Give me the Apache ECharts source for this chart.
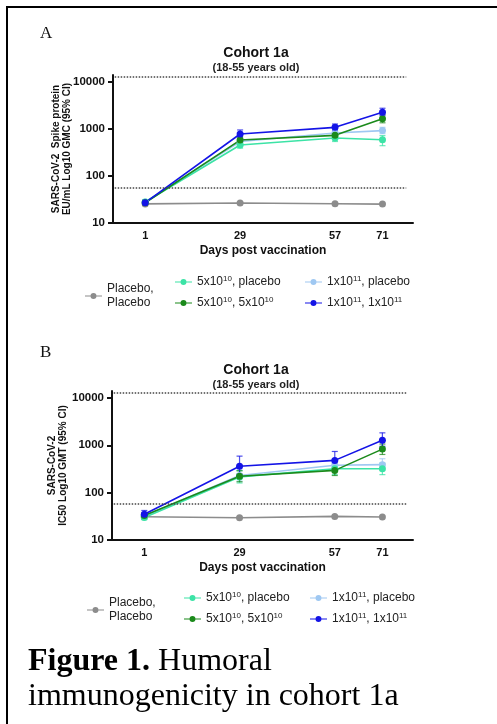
<!DOCTYPE html>
<html lang="en">
<head>
    <meta charset="UTF-8">
    <script src="https://cdn.jsdelivr.net/npm/echarts@6/dist/echarts.min.js"></script>
    <title>Cohort 1a</title>
    <style>
        html, body { margin: 0; padding: 0; background: #fff; }
    </style>
</head>
<body>
    <div id="main" style="width:497px;height:724px"></div>
    <script>
        // days post vaccination
        var days = [1, 29, 57, 71];
        var dayTicks = [1, 29, 57, 71];
        var yTicks = [10, 100, 1000, 10000];

        var names = ['Placebo, Placebo', '5x10^10, placebo', '5x10^10, 5x10^10', '1x10^11, placebo', '1x10^11, 1x10^11'];
        var colors = ['#8c8c8c', '#3ce3a6', '#1b8a1b', '#9fc8f2', '#1414e6'];

        // panel A: spike protein GMC (EU/mL)
        var gmcPlacebo = [25.5, 26.6, 25.6, 25.2];
        var gmcLowPlacebo = [28, 456, 640, 590];
        var gmcLowLow = [27, 580, 730, 1650];
        var gmcHighPlacebo = [28, 540, 820, 920];
        var gmcHighHigh = [27, 780, 1080, 2250];
        var gmcLowPlaceboCI = [[25, 390, 540, 440], [31, 540, 740, 720]];
        var gmcLowLowCI = [[25, 490, 620, 1350], [30, 690, 850, 2000]];
        var gmcHighPlaceboCI = [[25, 450, 700, 790], [31, 650, 960, 1080]];
        var gmcHighHighCI = [[25, 650, 920, 1900], [31, 950, 1270, 2750]];
        var gmcRefLines = [12800, 56];

        // panel B: neutralising IC50 GMT
        var gmtPlacebo = [31, 29.6, 31.5, 30.5];
        var gmtLowPlacebo = [30, 215, 320, 320];
        var gmtLowLow = [33, 222, 295, 830];
        var gmtHighPlacebo = [32, 230, 380, 390];
        var gmtHighHigh = [35, 360, 480, 1280];
        var gmtLowPlaceboCI = [[27, 160, 240, 240], [34, 290, 420, 420]];
        var gmtLowLowCI = [[29, 170, 230, 640], [37, 290, 380, 1060]];
        var gmtHighPlaceboCI = [[28, 175, 290, 300], [36, 300, 500, 520]];
        var gmtHighHighCI = [[30, 250, 330, 950], [42, 590, 740, 1830]];
        var gmtRefLines = [12800, 59];

        var font = '"Liberation Sans", Arial, sans-serif';
        var legendIcon = 'path://M0,3.3L20,3.3L20,4.7L0,4.7Z M10,0.5A3.5,3.5 0 1 1 9.99,0.5Z';

        function pairs(vals) {
            return days.map(function (d, i) { return [d, vals[i]]; });
        }

        function lineSeries(idx, vals, panel) {
            return {
                name: names[idx],
                type: 'line',
                xAxisIndex: panel, yAxisIndex: panel,
                data: pairs(vals),
                symbol: 'circle',
                symbolSize: 7,
                z: 3,
                color: colors[idx],
                lineStyle: { width: 1.6, color: colors[idx] },
                itemStyle: { color: colors[idx] },
                emphasis: { disabled: true }
            };
        }

        function errorSeries(idx, ci, panel) {
            return {
                name: names[idx],
                type: 'custom',
                xAxisIndex: panel, yAxisIndex: panel,
                z: 2,
                silent: true,
                data: days.map(function (d, i) { return [d, ci[0][i], ci[1][i]]; }),
                encode: { x: 0, y: [1, 2] },
                renderItem: function (params, api) {
                    var lo = api.coord([api.value(0), api.value(1)]);
                    var hi = api.coord([api.value(0), api.value(2)]);
                    var st = { stroke: colors[idx], lineWidth: 1.2, opacity: 0.75 };
                    return {
                        type: 'group',
                        children: [
                            { type: 'line', shape: { x1: lo[0], y1: lo[1], x2: hi[0], y2: hi[1] }, style: st },
                            { type: 'line', shape: { x1: lo[0] - 3, y1: lo[1], x2: lo[0] + 3, y2: lo[1] }, style: st },
                            { type: 'line', shape: { x1: hi[0] - 3, y1: hi[1], x2: hi[0] + 3, y2: hi[1] }, style: st }
                        ]
                    };
                }
            };
        }

        function refLines(refs) {
            return {
                silent: true,
                symbol: 'none',
                label: { show: false },
                lineStyle: { type: 'dotted', color: '#444', width: 1.5 },
                data: refs.map(function (v) {
                    return [{ coord: [-8, v] }, { coord: [78, v] }];
                })
            };
        }

        function supName(name) {
            if (name === names[0]) return 'Placebo,\nPlacebo';
            return name.replace(/10\^(\d+)/g, '10{sup|$1}');
        }

        function legendBlock(items, left, top) {
            return {
                orient: 'vertical',
                left: left, top: top,
                data: items,
                icon: legendIcon,
                itemWidth: 17, itemHeight: 7,
                itemGap: 7,
                selectedMode: false,
                formatter: supName,
                textStyle: {
                    fontFamily: font, fontSize: 12, color: '#222', lineHeight: 14,
                    rich: { sup: { fontFamily: font, fontSize: 8, color: '#222', verticalAlign: 'top', lineHeight: 14 } }
                }
            };
        }

        function xAxis(panel) {
            return {
                type: 'value', gridIndex: panel,
                min: -8.5, max: 80,
                axisLine: { onZero: false, lineStyle: { color: '#111', width: 2 } },
                axisTick: { show: false },
                splitLine: { show: false },
                axisLabel: { customValues: dayTicks, fontFamily: font, fontWeight: 'bold', fontSize: 11, color: '#111', margin: 7 },
                name: 'Days post vaccination',
                nameLocation: 'middle', nameGap: 22,
                nameTextStyle: { fontFamily: font, fontWeight: 'bold', fontSize: 12, color: '#111' }
            };
        }

        function yAxis(panel, name, gap) {
            return {
                type: 'log', logBase: 10, gridIndex: panel,
                min: 10, max: 14000,
                axisLine: { show: true, onZero: false, lineStyle: { color: '#111', width: 2 } },
                axisTick: { show: true, customValues: yTicks, length: 5, lineStyle: { color: '#111', width: 2 } },
                splitLine: { show: false },
                axisLabel: {
                    customValues: yTicks, fontFamily: font, fontWeight: 'bold', fontSize: 11.5, color: '#111', margin: 8,
                    formatter: function (v) { return String(Math.round(v)); }
                },
                name: name,
                nameLocation: 'middle', nameRotate: 90, nameGap: gap,
                nameMoveOverlap: false,
                nameTextStyle: { fontFamily: font, fontWeight: 'bold', fontSize: 10, lineHeight: 11, color: '#111' }
            };
        }

        function titleBlock(top) {
            return {
                text: 'Cohort 1a',
                subtext: '(18-55 years old)',
                left: 251, top: top, textAlign: 'center',
                itemGap: 2,
                textStyle: { fontFamily: font, fontWeight: 'bold', fontSize: 14, color: '#111' },
                subtextStyle: { fontFamily: font, fontWeight: 'bold', fontSize: 11, color: '#222' }
            };
        }

        var seriesA = [
            lineSeries(0, gmcPlacebo, 0),
            lineSeries(3, gmcHighPlacebo, 0),
            lineSeries(1, gmcLowPlacebo, 0),
            lineSeries(2, gmcLowLow, 0),
            lineSeries(4, gmcHighHigh, 0),
            errorSeries(3, gmcHighPlaceboCI, 0),
            errorSeries(1, gmcLowPlaceboCI, 0),
            errorSeries(2, gmcLowLowCI, 0),
            errorSeries(4, gmcHighHighCI, 0)
        ];
        seriesA[0].markLine = refLines(gmcRefLines);

        var seriesB = [
            lineSeries(0, gmtPlacebo, 1),
            lineSeries(3, gmtHighPlacebo, 1),
            lineSeries(1, gmtLowPlacebo, 1),
            lineSeries(2, gmtLowLow, 1),
            lineSeries(4, gmtHighHigh, 1),
            errorSeries(3, gmtHighPlaceboCI, 1),
            errorSeries(1, gmtLowPlaceboCI, 1),
            errorSeries(2, gmtLowLowCI, 1),
            errorSeries(4, gmtHighHighCI, 1)
        ];
        seriesB[0].markLine = refLines(gmtRefLines);

        var chart = echarts.init(document.getElementById('main'));
        var option = {
            backgroundColor: '#fff',
            animation: false,
            title: [titleBlock(41), titleBlock(358)],
            grid: [
                { left: 113, top: 75, width: 300, height: 148 },
                { left: 112, top: 391, width: 301, height: 149 }
            ],
            xAxis: [xAxis(0), xAxis(1)],
            yAxis: [
                yAxis(0, 'SARS-CoV-2  Spike protein\nEU/mL Log10 GMC (95% CI)', 40),
                yAxis(1, 'SARS-CoV-2\nIC50 Log10 GMT (95% CI)', 43)
            ],
            legend: [
                legendBlock([names[0]], 80, 277),
                legendBlock([names[1], names[2]], 170, 270),
                legendBlock([names[3], names[4]], 300, 270),
                legendBlock([names[0]], 82, 591),
                legendBlock([names[1], names[2]], 179, 586),
                legendBlock([names[3], names[4]], 305, 586)
            ],
            graphic: [
                { type: 'rect', shape: { x: 7, y: 7, width: 540, height: 760 }, style: { fill: 'none', stroke: '#000', lineWidth: 2 } },
                { type: 'text', x: 40, y: 25, style: { text: 'A', font: '17px "Liberation Serif", serif', fill: '#111' } },
                { type: 'text', x: 40, y: 344, style: { text: 'B', font: '17px "Liberation Serif", serif', fill: '#111' } },
                {
                    type: 'text', x: 28, y: 644,
                    style: {
                        text: '{b|Figure 1.} Humoral\nimmunogenicity in cohort 1a',
                        font: '32px "Liberation Serif", serif',
                        lineHeight: 35,
                        fill: '#000',
                        rich: { b: { font: 'bold 32px "Liberation Serif", serif', fill: '#000', lineHeight: 35 } }
                    }
                }
            ],
            series: seriesA.concat(seriesB)
        };
        chart.setOption(option);
    </script>
</body>
</html>
